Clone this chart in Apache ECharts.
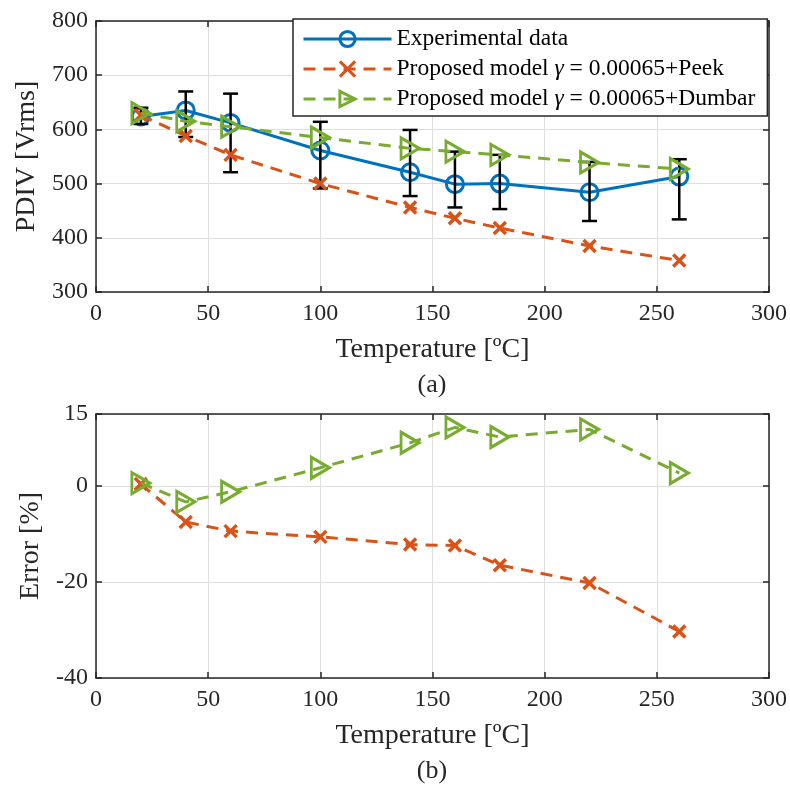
<!DOCTYPE html>
<html><head><meta charset="utf-8">
<script src="https://cdn.jsdelivr.net/npm/echarts@6/dist/echarts.min.js"></script>
<style>html,body{margin:0;padding:0;background:#fff}#c{width:790px;height:785px}</style>
</head><body><div id="c"></div>
<script>
const temps = [20, 40, 60, 100, 140, 160, 180, 220, 260];
const expPDIV = [624, 635, 612, 561, 521, 499, 500, 484, 513];
const errLow  = [610, 586, 521, 491, 477, 456, 453, 431, 434];
const errHigh = [640, 670, 666, 614, 599, 559, 553, 540, 545];
const peekPDIV = [626, 588, 553, 500, 456, 436, 418, 385, 358];
const dumbarPDIV = [630, 615, 605, 585, 565, 559, 553, 539, 527];
const peekErr = [0.4, -7.5, -9.4, -10.6, -12.2, -12.4, -16.5, -20.2, -30.3];
const dumbarErr = [0.6, -3.3, -1.2, 3.8, 9.0, 12.2, 10.2, 11.8, 2.7];
const xTicks = [0, 50, 100, 150, 200, 250, 300];
const names = ['Experimental data', 'Proposed model γ = 0.00065+Peek', 'Proposed model γ = 0.00065+Dumbar'];

const BLUE = '#0072BD', ORANGE = '#D95319', GREEN = '#77AC30', AX = '#262626';
const FONT = 'Liberation Serif';
const pairs = (xs, ys) => xs.map((x, i) => [x, ys[i]]);
const CROSS = 'path://M0,0L10,10M10,0L0,10';
const TRI = 'path://M0,0L10,5L0,10Z';

function xAxisDef(grid, main) {
  return {
    type: 'value', gridIndex: grid, min: 0, max: 300, interval: 50,
    position: main ? 'bottom' : 'top',
    name: main ? 'Temperature [ºC]' : '', nameLocation: 'middle', nameGap: 44,
    nameTextStyle: {fontFamily: FONT, fontSize: 28, color: AX},
    axisLine: {show: true, onZero: false, lineStyle: {color: AX, width: 1.5}},
    axisTick: {show: true, inside: true, length: 6, lineStyle: {color: AX, width: 1.5}},
    axisLabel: {show: main, fontFamily: FONT, fontSize: 24, color: AX, margin: 10},
    splitLine: {show: main, lineStyle: {color: '#dedede', width: 1}}
  };
}
function yAxisDef(grid, main, min, max, interval, name, gap) {
  return {
    type: 'value', gridIndex: grid, min: min, max: max, interval: interval,
    position: main ? 'left' : 'right',
    name: main ? name : '', nameLocation: 'middle', nameGap: gap,
    nameTextStyle: {fontFamily: FONT, fontSize: 28, color: AX},
    axisLine: {show: true, onZero: false, lineStyle: {color: AX, width: 1.5}},
    axisTick: {show: true, inside: true, length: 6, lineStyle: {color: AX, width: 1.5}},
    axisLabel: {show: main, fontFamily: FONT, fontSize: 24, color: AX, margin: 8},
    splitLine: {show: main, lineStyle: {color: '#dedede', width: 1}}
  };
}

const lineBase = (name, color, dashed) => ({
  name: name, type: 'line', animation: false,
  lineStyle: {color: color, width: 3, type: dashed ? [12, 8] : 'solid'},
  itemStyle: {color: 'rgba(255,255,255,0)', borderColor: color, borderWidth: 3},
  emphasis: {disabled: true}
});

const chart = echarts.init(document.getElementById('c'));
chart.setOption({
  backgroundColor: '#fff',
  animation: false,
  grid: [
    {left: 96, right: 21, top: 21, height: 271},
    {left: 96, right: 21, top: 414, height: 264}
  ],
  xAxis: [xAxisDef(0, true), xAxisDef(0, false), xAxisDef(1, true), xAxisDef(1, false)],
  yAxis: [
    yAxisDef(0, true, 300, 800, 100, 'PDIV [Vrms]', 54),
    yAxisDef(0, false, 300, 800, 100, '', 0),
    yAxisDef(1, true, -40, 15, 20, 'Error [%]', 50),
    yAxisDef(1, false, -40, 15, 20, '', 0)
  ],
  legend: {
    orient: 'vertical', left: 293, top: 19,
    data: names,
    itemWidth: 88, itemHeight: 19, itemGap: 6,
    padding: [8, 12, 5, 9],
    backgroundColor: '#fff', borderColor: AX, borderWidth: 1.5, borderRadius: 0,
    selectedMode: false,
    lineStyle: {width: 3},
    itemStyle: {borderWidth: 3},
    textStyle: {fontFamily: FONT, fontSize: 23.5, color: '#000',
      rich: {i: {fontFamily: FONT, fontSize: 23.5, fontStyle: 'italic', color: '#000'}}},
    formatter: n => n.replace('γ', '{i|γ}')
  },
  graphic: [
    {type: 'text', x: 432, y: 372, style: {text: '(a)', font: '26px "Liberation Serif"', fill: AX, textAlign: 'center'}},
    {type: 'text', x: 432, y: 758, style: {text: '(b)', font: '26px "Liberation Serif"', fill: AX, textAlign: 'center'}}
  ],
  series: [
    Object.assign(lineBase(names[0], BLUE, false), {
      xAxisIndex: 0, yAxisIndex: 0, data: pairs(temps, expPDIV),
      symbol: 'circle', symbolSize: 17, z: 2
    }),
    {
      type: 'custom', xAxisIndex: 0, yAxisIndex: 0, z: 3, silent: true,
      data: temps.map((t, i) => [t, errLow[i], errHigh[i]]),
      encode: {x: 0, y: [1, 2]},
      renderItem: (params, api) => {
        const lo = api.coord([api.value(0), api.value(1)]);
        const hi = api.coord([api.value(0), api.value(2)]);
        const w = 7.5;
        const st = {stroke: '#000', lineWidth: 2.5, fill: null};
        return {type: 'group', children: [
          {type: 'line', shape: {x1: lo[0], y1: lo[1], x2: hi[0], y2: hi[1]}, style: st},
          {type: 'line', shape: {x1: lo[0] - w, y1: lo[1], x2: lo[0] + w, y2: lo[1]}, style: st},
          {type: 'line', shape: {x1: hi[0] - w, y1: hi[1], x2: hi[0] + w, y2: hi[1]}, style: st}
        ]};
      }
    },
    Object.assign(lineBase(names[1], ORANGE, true), {
      xAxisIndex: 0, yAxisIndex: 0, data: pairs(temps, peekPDIV),
      symbol: CROSS, symbolSize: 12, z: 4,
      itemStyle: {color: 'rgba(255,255,255,0)', borderColor: ORANGE, borderWidth: 3.5}
    }),
    Object.assign(lineBase(names[2], GREEN, true), {
      xAxisIndex: 0, yAxisIndex: 0, data: pairs(temps, dumbarPDIV),
      symbol: TRI, symbolSize: [18, 21], z: 5
    }),
    Object.assign(lineBase(names[1], ORANGE, true), {
      xAxisIndex: 2, yAxisIndex: 2, data: pairs(temps, peekErr),
      symbol: CROSS, symbolSize: 12, z: 4,
      itemStyle: {color: 'rgba(255,255,255,0)', borderColor: ORANGE, borderWidth: 3.5}
    }),
    Object.assign(lineBase(names[2], GREEN, true), {
      xAxisIndex: 2, yAxisIndex: 2, data: pairs(temps, dumbarErr),
      symbol: TRI, symbolSize: [18, 21], z: 5
    })
  ]
});
</script></body></html>
